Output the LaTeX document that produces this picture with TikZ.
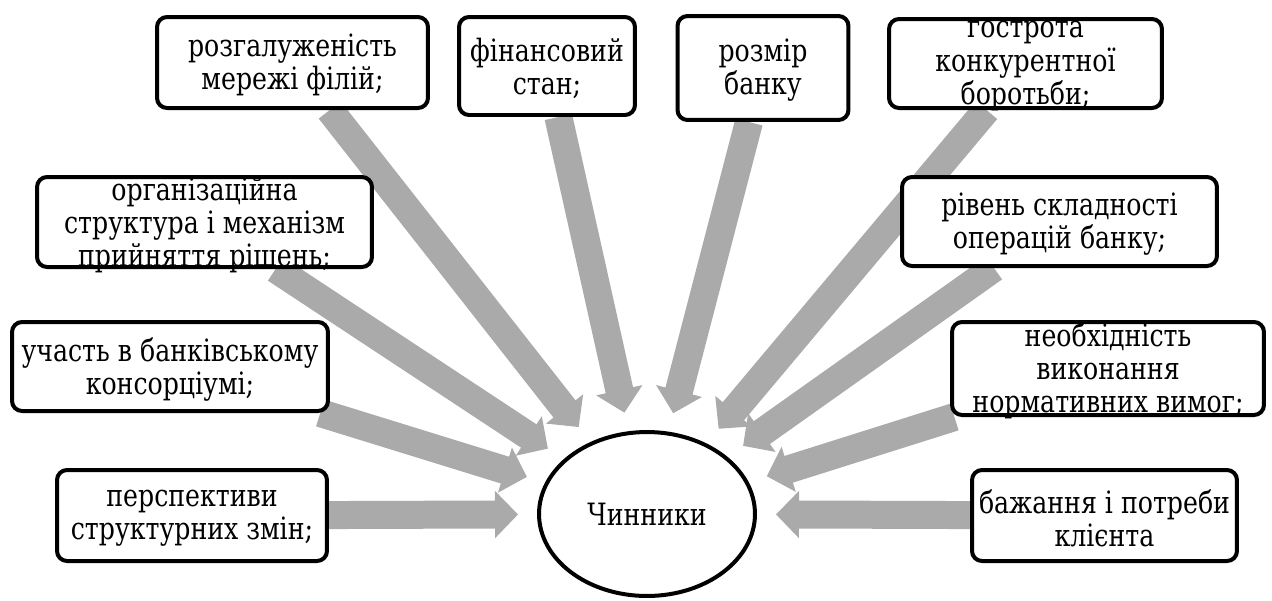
\documentclass[tikz,border=0pt]{standalone}
\usepackage{fontspec}
\newfontfamily\tnrfont{DejaVu Serif}[FakeStretch=0.82]
\usetikzlibrary{shapes.geometric,arrows.meta,backgrounds}
\definecolor{arrowgray}{RGB}{170,170,170}
\tikzset{
  box/.style={draw, line width=0.08cm, rounded corners=0.2cm, fill=white, inner sep=0pt},
  lbl/.style={align=center, inner sep=0pt, font=\tnrfont\fontsize{17.5}{18.8}\selectfont},
  arr/.style={line width=0.56cm, arrowgray, -{Triangle[width=0.92cm,length=0.46cm]}, shorten >=0.38cm}
}

\begin{document}
\begin{tikzpicture}[x=0.02cm,y=-0.02cm]
\useasboundingbox (0,0) rectangle (1272,600);
%\draw[step=50,lightgray,very thin] (0,0) grid (1272,600);
\node[box, ellipse, minimum width=4.32cm, minimum height=3.28cm] (ch) at (647,514) {};
\node[lbl] (tch) at (ch) {Чинники};

\node[box, minimum width=5.42cm, minimum height=1.82cm] (b1) at (292.5,62.5) {};
\node[lbl] (t1) at (292.5,65) {розгалуженість\\мережі філій;};
\node[box, minimum width=3.52cm, minimum height=1.96cm] (b2) at (547,66) {};
\node[lbl] (t2) at (547,68) {фінансовий\\стан;};
\node[box, minimum width=3.42cm, minimum height=2.08cm] (b3) at (763,68) {};
\node[lbl] (t3) at (763,70) {розмір\\банку};
\node[box, minimum width=5.46cm, minimum height=1.78cm] (b4) at (1025.5,63.5) {};
\node[lbl] (t4) at (1025.5,66) {гострота\\конкурентної\\боротьби;};

\node[box, minimum width=6.70cm, minimum height=1.80cm] (b5) at (204.5,222) {};
\node[lbl] (t5) at (204.5,225) {організаційна\\структура і механізм\\прийняття рішень;};
\node[box, minimum width=6.30cm, minimum height=1.78cm] (b6) at (1059.5,221.5) {};
\node[lbl] (t6) at (1059.5,224) {рівень складності\\операцій банку;};

\node[box, minimum width=6.32cm, minimum height=1.78cm] (b7) at (170,366.5) {};
\node[lbl] (t7) at (170,369) {участь в банківському\\консорціумі;};
\node[box, minimum width=6.24cm, minimum height=1.86cm] (b8) at (1108,368.5) {};
\node[lbl] (t8) at (1108,371) {необхідність\\виконання\\нормативних вимог;};

\node[box, minimum width=5.40cm, minimum height=1.82cm] (b9) at (192,515.5) {};
\node[lbl] (t9) at (192,518) {перспективи\\структурних змін;};
\node[box, minimum width=5.30cm, minimum height=1.82cm] (b10) at (1104.5,515.5) {};
\node[lbl] (t10) at (1104.5,518) {бажання і потреби\\клієнта};

% arrows under the boxes
\begin{scope}[on background layer]
\draw[arr] (b1) -- (ch);
\draw[arr] (b2) -- (ch);
\draw[arr] (b3) -- (ch);
\draw[arr] (b4) -- (ch);
\draw[arr] (b5) -- (ch);
\draw[arr] (b6) -- (ch);
\draw[arr] (b7) -- (ch);
\draw[arr] (b8) -- (ch);
\draw[arr] (b9) -- (ch);
\draw[arr] (b10) -- (ch);
\end{scope}
\end{tikzpicture}
\end{document}
